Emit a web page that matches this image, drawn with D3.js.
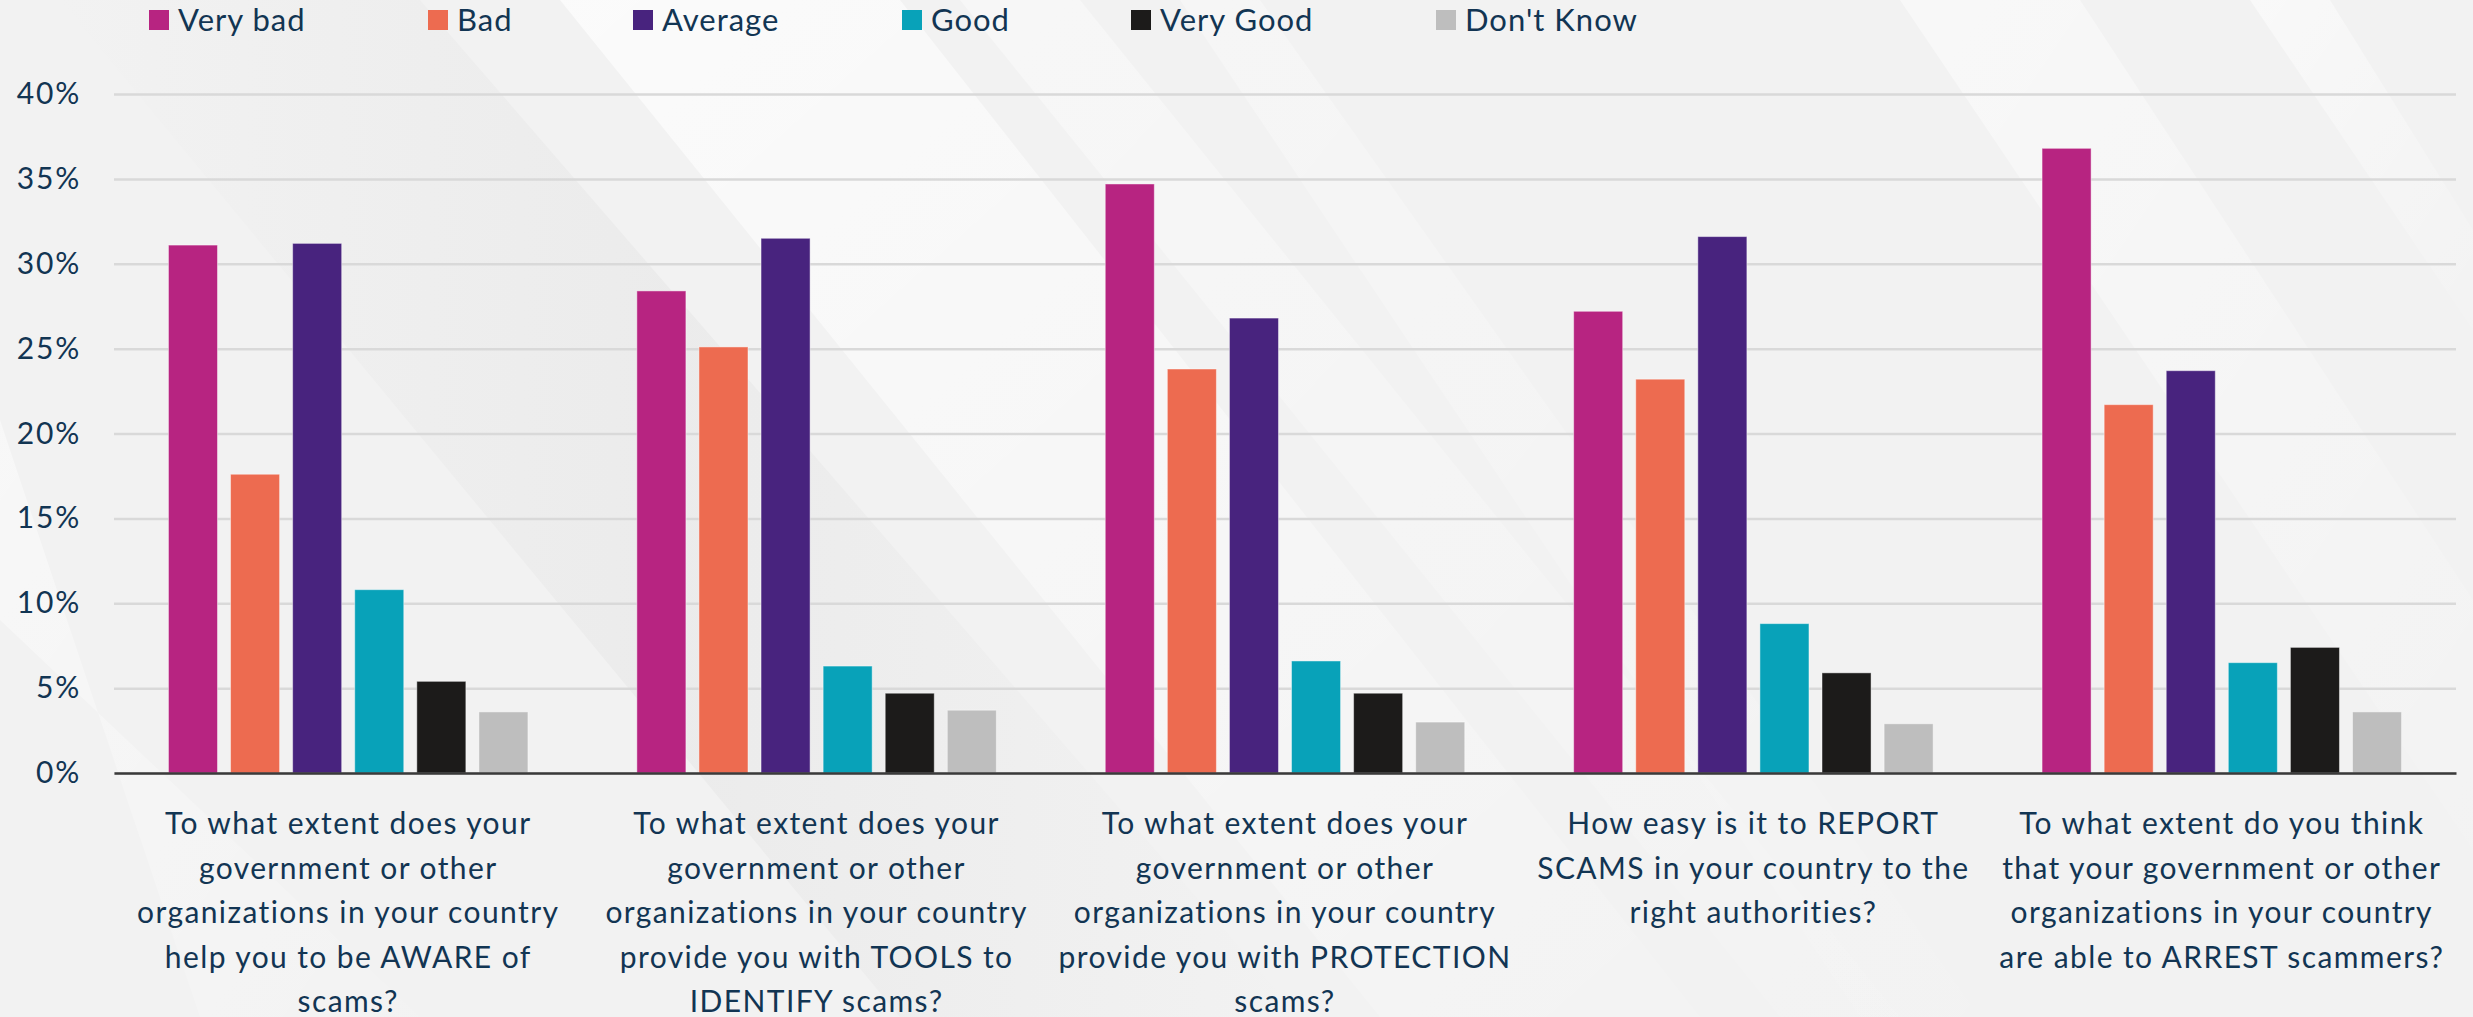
<!DOCTYPE html>
<html>
<head>
<meta charset="utf-8">
<script src="https://cdn.jsdelivr.net/npm/d3@7"></script>
<style>
  html, body { margin: 0; padding: 0; background: #f2f2f2; }
  svg { display: block; }
  text { font-family: Lato, "Open Sans", sans-serif; fill: #123553; }
</style>
</head>
<body>
<svg id="chart" width="2473" height="1017"></svg>
<script>
// Survey questions (x categories), each split into display lines
const questions = [
  ["To what extent does your", "government or other", "organizations in your country", "help you to be AWARE of", "scams?"],
  ["To what extent does your", "government or other", "organizations in your country", "provide you with TOOLS to", "IDENTIFY scams?"],
  ["To what extent does your", "government or other", "organizations in your country", "provide you with PROTECTION", "scams?"],
  ["How easy is it to REPORT", "SCAMS in your country to the", "right authorities?"],
  ["To what extent do you think", "that your government or other", "organizations in your country", "are able to ARREST scammers?"]
];

// Answer options (series)
const answers = ["Very bad", "Bad", "Average", "Good", "Very Good", "Don't Know"];
const answerColors = ["#b72481", "#ed6b50", "#48237e", "#08a2b9", "#1c1b1a", "#bebebe"];

// Share of respondents (%) per question
const veryBad   = [31.1, 28.4, 34.7, 27.2, 36.8];
const bad       = [17.6, 25.1, 23.8, 23.2, 21.7];
const average   = [31.2, 31.5, 26.8, 31.6, 23.7];
const good      = [10.8, 6.3, 6.6, 8.8, 6.5];
const veryGood  = [5.4, 4.7, 4.7, 5.9, 7.4];
const dontKnow  = [3.6, 3.7, 3.0, 2.9, 3.6];

const yTicks = [0, 5, 10, 15, 20, 25, 30, 35, 40];

const seriesValues = [veryBad, bad, average, good, veryGood, dontKnow];

const W = 2473, H = 1017;
const margin = { left: 114, right: 17, top: 94, bottom: 244 };
// left edge of each legend entry along the top row
const legendX = [149, 428, 633, 902, 1131, 1436];
const svg = d3.select("#chart");

// ---- soft diagonal background sheen ----
const defs = svg.append("defs");
const g1 = defs.append("linearGradient").attr("id", "sheen").attr("x1", "0").attr("y1", "0").attr("x2", "1").attr("y2", "1");
g1.append("stop").attr("offset", "0").attr("stop-color", "#fff").attr("stop-opacity", 0.9);
g1.append("stop").attr("offset", "1").attr("stop-color", "#fff").attr("stop-opacity", 0.1);
const g2 = defs.append("linearGradient").attr("id", "shade").attr("x1", "0").attr("y1", "0").attr("x2", "1").attr("y2", "0");
g2.append("stop").attr("offset", "0").attr("stop-color", "#e6e6e6").attr("stop-opacity", 0);
g2.append("stop").attr("offset", "0.5").attr("stop-color", "#e6e6e6").attr("stop-opacity", 0.8);
g2.append("stop").attr("offset", "1").attr("stop-color", "#e6e6e6").attr("stop-opacity", 0);

const bg = svg.append("g");
bg.append("rect").attr("width", W).attr("height", H).attr("fill", "#f2f2f2");
const sheets = [
  { pts: [[60,0],[420,0],[1300,1017],[900,1017]], fill: "url(#shade)", op: 0.7 },
  { pts: [[560,0],[900,0],[1700,1017],[1380,1017]], fill: "url(#sheen)", op: 0.75 },
  { pts: [[960,0],[1080,0],[1900,1017],[1780,1017]], fill: "url(#sheen)", op: 0.45 },
  { pts: [[0,420],[0,620],[420,1017],[200,1017]], fill: "url(#sheen)", op: 0.5 },
  { pts: [[1900,0],[2080,0],[2473,600],[2473,850]], fill: "url(#sheen)", op: 0.55 },
  { pts: [[2250,0],[2330,0],[2473,230],[2473,330]], fill: "url(#sheen)", op: 0.6 },
  { pts: [[1180,0],[1260,0],[1980,1017],[1860,1017]], fill: "url(#sheen)", op: 0.35 }
];
bg.selectAll("polygon").data(sheets).join("polygon")
  .attr("points", d => d.pts.map(p => p.join(",")).join(" "))
  .attr("fill", d => d.fill)
  .attr("opacity", d => d.op);

// ---- scales ----
const x0 = d3.scaleBand()
  .domain(d3.range(questions.length))
  .range([margin.left, W - margin.right])
  .paddingInner(0).paddingOuter(0);

const x1 = d3.scaleBand()
  .domain(d3.range(answers.length))
  .range([0, x0.bandwidth()])
  .paddingInner(0.21).paddingOuter(0.877);

const y = d3.scaleLinear().domain([0, 40]).range([H - margin.bottom, margin.top]);

// ---- gridlines + y labels ----
const yAxis = d3.axisLeft(y)
  .tickValues(yTicks)
  .tickFormat(d => d + "%")
  .tickSize(-(W - margin.left - margin.right))
  .tickPadding(33);

const ya = svg.append("g").attr("transform", `translate(${margin.left},0)`).call(yAxis);
ya.select(".domain").remove();
ya.selectAll(".tick line").attr("stroke", "#d9d9d9").attr("stroke-width", 2.5);
ya.selectAll(".tick text")
  .attr("font-size", 30)
  .attr("font-family", "Lato, sans-serif")
  .attr("fill", "#123553")
  .attr("letter-spacing", 1.8);

// ---- bars ----
const groups = svg.append("g").selectAll("g.q")
  .data(questions.map((q, i) => i))
  .join("g")
  .attr("class", "q")
  .attr("transform", i => `translate(${x0(i)},0)`);

groups.selectAll("rect")
  .data(i => seriesValues.map((vals, s) => ({ s, v: vals[i] })))
  .join("rect")
  .attr("x", d => x1(d.s))
  .attr("width", x1.bandwidth())
  .attr("y", d => y(d.v))
  .attr("height", d => y(0) - y(d.v))
  .attr("fill", d => answerColors[d.s])
  .attr("stroke", "rgba(255,255,255,0.45)")
  .attr("stroke-width", 1);

// ---- x axis line and category labels ----
const xa = svg.append("g").attr("transform", `translate(0,${y(0)})`)
  .call(d3.axisBottom(x0).tickSize(0).tickFormat(""));
xa.select(".domain").attr("stroke", "#3a3a3a").attr("stroke-width", 2.5);

const labels = svg.append("g").selectAll("text.qlabel")
  .data(questions.map((q, i) => i))
  .join("text")
  .attr("class", "qlabel")
  .attr("text-anchor", "middle")
  .attr("font-size", 30)
  .attr("letter-spacing", 1.4)
  .attr("transform", i => `translate(${x0(i) + x0.bandwidth() / 2},${y(0) + 61})`);

labels.selectAll("tspan")
  .data(i => questions[i])
  .join("tspan")
  .attr("x", 0)
  .attr("y", (d, k) => k * 44.5)
  .text(d => d);

// ---- legend ----
const legend = svg.append("g").selectAll("g.item")
  .data(answers)
  .join("g")
  .attr("class", "item")
  .attr("transform", (d, s) => `translate(${legendX[s]},0)`);
legend.append("rect").attr("x", 0).attr("y", 10).attr("width", 20).attr("height", 20)
  .attr("fill", (d, s) => answerColors[s]);
legend.append("text").attr("x", 29).attr("y", 31)
  .attr("font-size", 31).attr("letter-spacing", 1.0).text(d => d);
</script>
</body>
</html>
